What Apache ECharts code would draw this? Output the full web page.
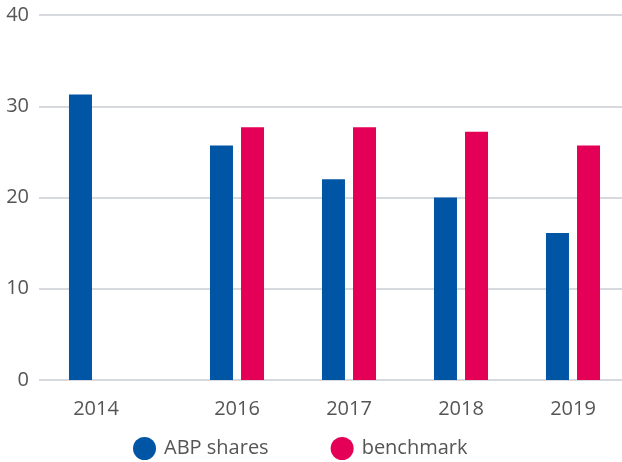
<!DOCTYPE html>
<html lang="en">
<head>
  <meta charset="UTF-8">
  <title>ABP shares vs benchmark</title>
  <script src="https://cdn.jsdelivr.net/npm/echarts@6/dist/echarts.min.js"></script>
  <style>
    html, body { margin: 0; padding: 0; background: #fff; }
    #chart { width: 622px; height: 462px; }
  </style>
</head>
<body>
<div id="chart"></div>
<script type="text/javascript">
  // values
  var years = ['2014', '2016', '2017', '2018', '2019'];
  var abpShares = [31.3, 25.7, 22.0, 20.0, 16.1];
  var benchmark = [null, 27.7, 27.7, 27.2, 25.7];
  var yTicks = [0, 10, 20, 30, 40];

  var blue = '#0055a4';
  var red = '#e40056';
  var grey = '#555555';
  var font = "'Open Sans', 'Noto Sans', sans-serif";

  var myChart = echarts.init(document.getElementById('chart'));

  // 2014 sits in its own narrow block, 2016-2019 in a second block
  var first = [0];
  var rest = [1, 2, 3, 4];
  function pick(arr, idx) {
    return idx.map(function (i) { return arr[i]; });
  }

  var xLabel = { color: grey, fontSize: 20, fontFamily: font, margin: 19 };

  var option = {
    animation: false,
    grid: [
      { left: 39, right: 0, top: 15, bottom: 82, outerBoundsMode: 'none' },
      { left: 40, width: 112, top: 15, bottom: 82, outerBoundsMode: 'none' },
      { left: 181, width: 448, top: 15, bottom: 82, outerBoundsMode: 'none' }
    ],
    xAxis: [
      { gridIndex: 0, type: 'category', data: [''], show: false },
      {
        gridIndex: 1, type: 'category', data: pick(years, first),
        axisLine: { show: false }, axisTick: { show: false }, axisLabel: xLabel
      },
      {
        gridIndex: 2, type: 'category', data: pick(years, rest),
        axisLine: { show: false }, axisTick: { show: false }, axisLabel: xLabel
      }
    ],
    yAxis: [
      {
        gridIndex: 0, type: 'value',
        min: yTicks[0], max: yTicks[yTicks.length - 1], interval: 10,
        axisLine: { show: false }, axisTick: { show: false },
        axisLabel: { color: grey, fontSize: 20, fontFamily: font, margin: 10 },
        splitLine: { lineStyle: { color: '#d6dadf', width: 2 } }
      },
      { gridIndex: 1, type: 'value', min: 0, max: 40, show: false },
      { gridIndex: 2, type: 'value', min: 0, max: 40, show: false }
    ],
    legend: {
      data: ['ABP shares', 'benchmark'],
      left: 133,
      top: 437,
      padding: 0,
      icon: 'circle',
      itemWidth: 23,
      itemHeight: 23,
      itemGap: 62,
      textStyle: { color: grey, fontSize: 20, fontFamily: font, padding: [0, 0, 0, 3] }
    },
    series: [
      {
        name: 'ABP shares', type: 'bar', xAxisIndex: 1, yAxisIndex: 1,
        data: pick(abpShares, first), barWidth: 23, barGap: '35%',
        itemStyle: { color: blue }
      },
      {
        name: 'benchmark', type: 'bar', xAxisIndex: 1, yAxisIndex: 1,
        data: pick(benchmark, first), barWidth: 23, barGap: '35%',
        itemStyle: { color: red }
      },
      {
        name: 'ABP shares', type: 'bar', xAxisIndex: 2, yAxisIndex: 2,
        data: pick(abpShares, rest), barWidth: 23, barGap: '35%',
        itemStyle: { color: blue }
      },
      {
        name: 'benchmark', type: 'bar', xAxisIndex: 2, yAxisIndex: 2,
        data: pick(benchmark, rest), barWidth: 23, barGap: '35%',
        itemStyle: { color: red }
      }
    ]
  };
  myChart.setOption(option);
</script>
</body>
</html>
